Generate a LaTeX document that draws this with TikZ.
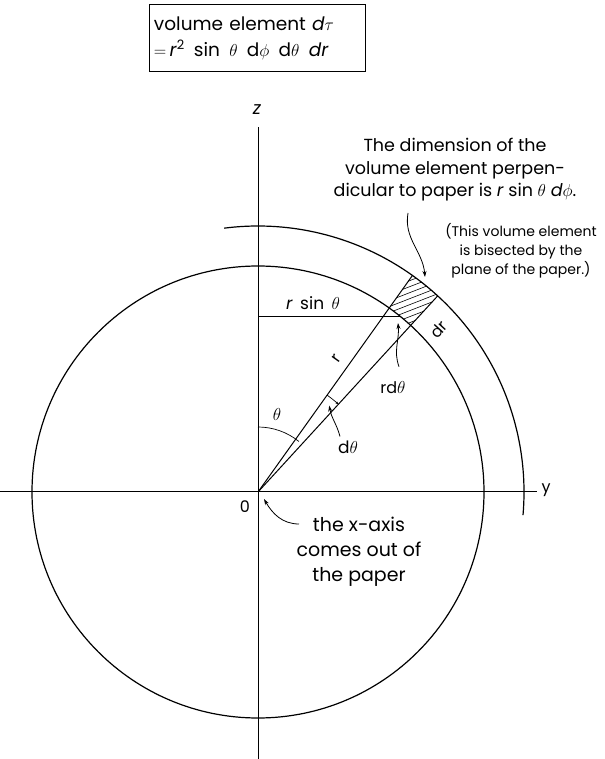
\documentclass[tikz,border=0pt]{standalone}
\usepackage{amsmath,amssymb}
\usepackage{fontspec}
\setmainfont{Poppins}
\usetikzlibrary{arrows.meta, positioning, calc}
\tikzset{
  axisline/.style={line width=1pt, black},
  circleline/.style={line width=1.2pt, black},
  callarrow/.style={-{Stealth[length=6pt, width=4pt]}, line width=0.8pt},
  labeltext/.style={font=\fontsize{16}{19}\selectfont, inner sep=1pt},
  notetext/.style={font=\fontsize{17.5}{22.5}\selectfont, align=center},
  smallnote/.style={font=\fontsize{14}{19}\selectfont, align=center},
  formulabox/.style={draw, line width=0.8pt, align=left, font=\fontsize{18.5}{26}\selectfont,
                     text width=206pt, inner sep=5pt, minimum height=67pt},
}

\begin{document}
\begin{tikzpicture}[x=1pt, y=1pt, >=Stealth]
  \useasboundingbox (-258,-267) rectangle (346,492);
  \coordinate (O) at (0,0);

  \node[formulabox] (formula) at (-1,454) {volume element \textit{d}$\tau$\\$=$\,\textit{r}\textsuperscript{2}\, sin\, $\theta$\, d$\phi$\, d$\theta$\, \textit{dr}};

  \draw[axisline] (0,-267) -- (0,365);
  \node[labeltext, font=\fontsize{18}{20}\selectfont] (zlab) at (-1,382) {\textit{z}};
  \draw[axisline] (-258,0) -- (279,0);
  \node[labeltext] (ylab) at (288,2) {y};
  \node[labeltext] (zerolab) at (-13,-15) {0};

  \draw[circleline] (O) circle (226);
  \draw[circleline] (97.3:266) arc (97.3:-5:266);

  \begin{scope}
    \clip (47.5:226) -- (47.5:266) arc (47.5:54.5:266) -- (54.5:226) arc (54.5:47.5:226) -- cycle;
    \foreach \k in {0,...,17} \draw[line width=0.6pt] (120,115+\k*6) -- +(90,35);
  \end{scope}
  \draw[axisline] (O) -- (54.5:266);
  \draw[axisline] (O) -- (47.5:266);

  \coordinate (P) at (51:226);
  \draw[axisline] (P -| O) -- (P);
  \node[labeltext, font=\fontsize{17}{20}\selectfont] (rsinlab) at (55,189) {\textit{r}\, sin\, $\theta$};

  \draw[line width=0.7pt] (0,65) arc (90:51:65);
  \node[labeltext, font=\fontsize{17}{20}\selectfont] (thetalab) at (19,77) {$\theta$};
  \draw[line width=0.7pt, -{Stealth[length=3pt, width=2.5pt]}] (54.5:119) arc (54.5:47.5:119);

  \node[labeltext, rotate=54.5] (rlab) at (79,134) {r};
  \node[labeltext, rotate=47.5] (drlab) at (181,163) {dr};

  \node[labeltext, font=\fontsize{17}{20}\selectfont] (dthlab) at (90,45) {d$\theta$};
  \coordinate (dthtip) at (50.5:112);
  \draw[callarrow] ([xshift=-8pt, yshift=3pt]dthlab.north) to[out=105, in=-80] (dthtip);

  \node[labeltext] (rdthlab) at (135,104) {rd$\theta$};
  \coordinate (rdthtip) at (140,169);
  \draw[callarrow] ([xshift=6pt, yshift=14pt]rdthlab.north) to[out=110, in=-85] (rdthtip);

  \node[notetext] (dimnote) at (197,322) {The dimension of the\\volume element perpen-\\dicular to paper is \textit{r} sin $\theta$ \textit{d}$\phi$.};
  \node[smallnote] (bisnote) at (263,241) {(This volume element\\is bisected by the\\plane of the paper.)};
  \coordinate (dimfoot) at (150,279);
  \coordinate (elemtop) at (167,215);
  \draw[callarrow] (dimfoot) to[out=-100, in=95] (elemtop);

  \node[notetext, font=\fontsize{19}{25}\selectfont] (xnote) at (101,-60) {the x-axis\\comes out of\\the paper};
  \coordinate (xstart) at (41,-32);
  \draw[callarrow] (xstart) to[out=180, in=-60] ([shift={(6,-7)}]O);
\end{tikzpicture}
\end{document}
